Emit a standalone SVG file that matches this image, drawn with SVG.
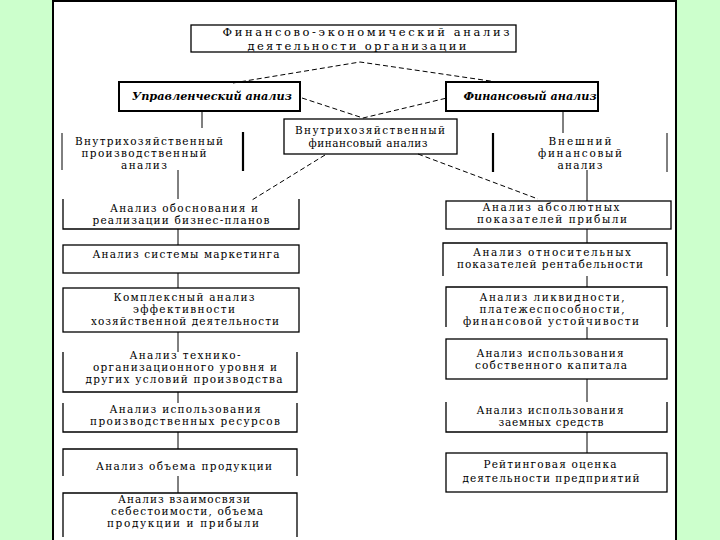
<svg xmlns="http://www.w3.org/2000/svg" width="720" height="540" viewBox="0 0 720 540">
<style>
.t{font-family:"DejaVu Serif","Liberation Serif",serif;font-size:10.5px;fill:#000;text-anchor:middle}
.tt{font-size:11.5px}
.h{font-size:11.5px;font-weight:bold;font-style:italic}
.b{fill:none;stroke:#000;stroke-width:1.3}
.bh{fill:none;stroke:#000;stroke-width:2}
.c{fill:none;stroke:#000;stroke-width:1}
.d{fill:none;stroke:#000;stroke-width:1;stroke-dasharray:5 3}
.bar{stroke:#000;stroke-width:1}
.barb{stroke:#000;stroke-width:2.2}
</style>
<rect x="0" y="0" width="720" height="540" fill="#ccffcc"/>
<rect x="53" y="1" width="623" height="545" fill="#fff" stroke="#000" stroke-width="2"/>

<g id="connectors">
<path class="d" d="M233,83 L360,62 L497,82"/>
<path class="d" d="M302,98 L363,118 L447,98"/>
<path class="d" d="M325,155 L252,200"/>
<path class="d" d="M418,154 L538,199"/>
<path class="c" d="M202,111 V128"/>
<path class="c" d="M563,111 V133"/>
<path class="c" d="M178,170 V199 M178,229 V245 M178,273 V288 M178,332 V352 M178,392 V403 M178,432 V449 M178,476 V493"/>
<path class="c" d="M587,170 V201 M587,229 V243 M587,276 V287 M587,327 V339 M587,379 V402 M587,432 V453"/>
</g>

<g id="title">
<rect class="b" x="191" y="25" width="325" height="27"/>
<text class="t tt" x="366" y="36" textLength="287" lengthAdjust="spacing">Финансово-экономический анализ</text>
<text class="t tt" x="357" y="49.5" textLength="219" lengthAdjust="spacing">деятельности организации</text>
</g>

<g id="upravl">
<rect class="bh" x="119" y="82" width="181" height="29"/>
<text class="t h" x="212" y="100" textLength="160" lengthAdjust="spacingAndGlyphs">Управленческий анализ</text>
</g>

<g id="finans">
<rect class="bh" x="446" y="82" width="152" height="29"/>
<text class="t h" x="530" y="100" textLength="133" lengthAdjust="spacingAndGlyphs">Финансовый анализ</text>
</g>

<g id="vnutr-fin">
<rect class="b" x="284" y="119" width="173" height="35"/>
<text class="t" x="370" y="134" textLength="150" lengthAdjust="spacing">Внутрихозяйственный</text>
<text class="t" x="368" y="146.5" textLength="119" lengthAdjust="spacing">финансовый анализ</text>
</g>

<g id="vnutr-proizv">
<line class="bar" x1="62" y1="133" x2="62" y2="170"/>
<line class="barb" x1="243" y1="132" x2="243" y2="171"/>
<text class="t" x="149" y="145" textLength="148" lengthAdjust="spacing">Внутрихозяйственный</text>
<text class="t" x="144" y="157" textLength="125" lengthAdjust="spacing">производственный</text>
<text class="t" x="144" y="169" textLength="46" lengthAdjust="spacing">анализ</text>
</g>

<g id="vneshn">
<line class="barb" x1="493" y1="133" x2="493" y2="172"/>
<line class="bar" x1="667" y1="133" x2="667" y2="172"/>
<text class="t" x="580" y="145" textLength="63" lengthAdjust="spacing">Внешний</text>
<text class="t" x="580" y="157" textLength="84" lengthAdjust="spacing">финансовый</text>
<text class="t" x="580" y="169" textLength="45" lengthAdjust="spacing">анализ</text>
</g>

<g id="l1">
<path class="b" d="M63,199 V229 H299 V199"/>
<text class="t" x="184" y="212" textLength="148" lengthAdjust="spacing">Анализ обоснования и</text>
<text class="t" x="181" y="224" textLength="177" lengthAdjust="spacing">реализации бизнес-планов</text>
</g>

<g id="l2">
<rect class="b" x="63" y="245" width="236" height="28"/>
<text class="t" x="186" y="258" textLength="187" lengthAdjust="spacing">Анализ системы маркетинга</text>
</g>

<g id="l3">
<rect class="b" x="63" y="288" width="236" height="44"/>
<text class="t" x="184" y="301" textLength="141" lengthAdjust="spacing">Комплексный анализ</text>
<text class="t" x="184" y="313" textLength="102" lengthAdjust="spacing">эффективности</text>
<text class="t" x="185" y="325" textLength="188" lengthAdjust="spacing">хозяйственной деятельности</text>
</g>

<g id="l4">
<path class="b" d="M63,352 V392 H297 V352"/>
<text class="t" x="185" y="359" textLength="111" lengthAdjust="spacing">Анализ технико-</text>
<text class="t" x="185" y="371" textLength="184" lengthAdjust="spacing">организационного уровня и</text>
<text class="t" x="184" y="383" textLength="197" lengthAdjust="spacing">других условий производства</text>
</g>

<g id="l5">
<path class="b" d="M63,403 V432 H297 V403"/>
<text class="t" x="185" y="413" textLength="151" lengthAdjust="spacing">Анализ использования</text>
<text class="t" x="185" y="425" textLength="190" lengthAdjust="spacing">производственных ресурсов</text>
</g>

<g id="l6">
<path class="b" d="M63,476 V449 H297 V476"/>
<text class="t" x="184" y="470" textLength="176" lengthAdjust="spacing">Анализ объема продукции</text>
</g>

<g id="l7">
<path class="b" d="M63,537 V493 H297 V537"/>
<text class="t" x="184" y="503" textLength="132" lengthAdjust="spacing">Анализ взаимосвязи</text>
<text class="t" x="187" y="515" textLength="152" lengthAdjust="spacing">себестоимости, объема</text>
<text class="t" x="183" y="527" textLength="152" lengthAdjust="spacing">продукции и прибыли</text>
</g>

<g id="r1">
<rect class="b" x="446" y="201" width="225" height="28"/>
<text class="t" x="551" y="211" textLength="137" lengthAdjust="spacing">Анализ абсолютных</text>
<text class="t" x="552" y="223" textLength="150" lengthAdjust="spacing">показателей прибыли</text>
</g>

<g id="r2">
<path class="b" d="M443,276 V243 H667 V276"/>
<text class="t" x="552" y="256" textLength="158" lengthAdjust="spacing">Анализ относительных</text>
<text class="t" x="550" y="268" textLength="186" lengthAdjust="spacing">показателей рентабельности</text>
</g>

<g id="r3">
<path class="b" d="M446,327 V287 H667 V327"/>
<text class="t" x="552" y="301" textLength="145" lengthAdjust="spacing">Анализ ликвидности,</text>
<text class="t" x="552" y="313" textLength="145" lengthAdjust="spacing">платежеспособности,</text>
<text class="t" x="551" y="325" textLength="176" lengthAdjust="spacing">финансовой устойчивости</text>
</g>

<g id="r4">
<rect class="b" x="446" y="339" width="221" height="40"/>
<text class="t" x="550" y="357" textLength="147" lengthAdjust="spacing">Анализ использования</text>
<text class="t" x="551" y="369" textLength="152" lengthAdjust="spacing">собственного капитала</text>
</g>

<g id="r5">
<path class="b" d="M446,402 V432 H667 V402"/>
<text class="t" x="550" y="414" textLength="147" lengthAdjust="spacing">Анализ использования</text>
<text class="t" x="551" y="426" textLength="105" lengthAdjust="spacing">заемных средств</text>
</g>

<g id="r6">
<rect class="b" x="446" y="453" width="221" height="39"/>
<text class="t" x="550" y="468" textLength="133" lengthAdjust="spacing">Рейтинговая оценка</text>
<text class="t" x="551" y="482" textLength="177" lengthAdjust="spacing">деятельности предприятий</text>
</g>
</svg>
